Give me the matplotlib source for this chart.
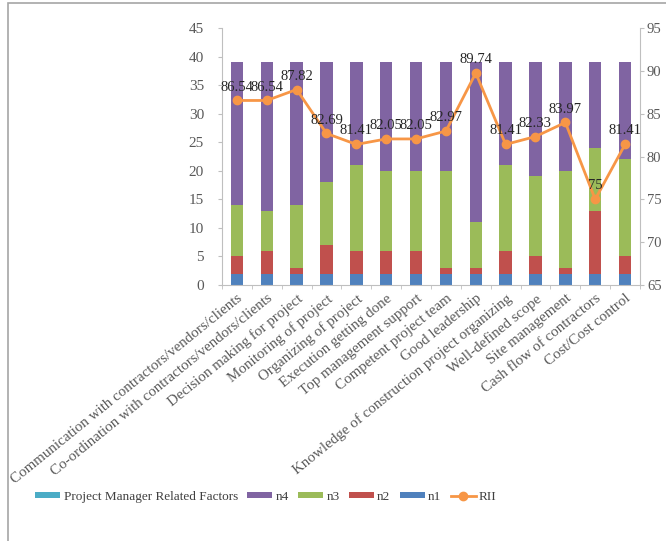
import numpy as np
import matplotlib
matplotlib.use("Agg")
import matplotlib.pyplot as plt
from matplotlib.patches import Rectangle

# Datos
factores = [
    "Communication with contractors/vendors/clients",
    "Co-ordination with contractors/vendors/clients",
    "Decision making for project",
    "Monitoring of project",
    "Organizing of project",
    "Execution getting done",
    "Top management support",
    "Competent project team",
    "Good leadership",
    "Knowledge of construction project organizing",
    "Well-defined scope",
    "Site management",
    "Cash flow of contractors",
    "Cost/Cost control",
]
n1 = [2, 2, 2, 2, 2, 2, 2, 2, 2, 2, 2, 2, 2, 2]
n2 = [3, 4, 1, 5, 4, 4, 4, 1, 1, 4, 3, 1, 11, 3]
n3 = [9, 7, 11, 11, 15, 14, 14, 17, 8, 15, 14, 17, 11, 17]
n4 = [25, 26, 25, 21, 18, 19, 19, 19, 28, 18, 20, 19, 15, 17]
pm = [0] * 14
rii = [86.54, 86.54, 87.82, 82.69, 81.41, 82.05, 82.05, 82.97, 89.74, 81.41, 82.33, 83.97, 75, 81.41]

plt.rcParams["font.family"] = ["Liberation Serif", "DejaVu Serif"]
gris = "#595959"

fig = plt.figure(figsize=(6.66, 5.41), dpi=100)
ax = fig.add_axes([222 / 666, 1 - 285 / 541, 418 / 666, 257 / 541])

x = np.arange(len(factores))
w = 0.42
b1 = np.array(n1)
b2 = b1 + np.array(n2)
b3 = b2 + np.array(n3)

ax.bar(x, pm, w, color="#4BACC6", label="Project Manager Related Factors")
ax.bar(x, n1, w, color="#4F81BD", label="n1")
ax.bar(x, n2, w, bottom=b1, color="#C0504D", label="n2")
ax.bar(x, n3, w, bottom=b2, color="#9BBB59", label="n3")
ax.bar(x, n4, w, bottom=b3, color="#8064A2", label="n4")

ax.set_xlim(-0.5, len(factores) - 0.5)
ax.set_ylim(0, 45)
ax.set_yticks(range(0, 46, 5))
ax.set_xticks(x)
ax.set_xticklabels(factores, rotation=39, ha="right", rotation_mode="anchor",
                   fontsize=10.8, color=gris)
ax.set_xticks(np.arange(-0.5, len(factores), 1), minor=True)
ax.tick_params(axis="x", which="major", length=0, pad=5)
ax.tick_params(axis="x", which="minor", length=3, color="#bfbfbf")
ax.tick_params(axis="y", labelsize=11, labelcolor=gris, color="#bfbfbf", length=3, pad=10)
for s in ["top", "right"]:
    ax.spines[s].set_visible(False)
ax.spines["left"].set_color("#bfbfbf")
ax.spines["bottom"].set_color("#bfbfbf")

# Eje secundario con el RII
ax2 = ax.twinx()
ax2.plot(x, rii, color="#F79646", linewidth=2, marker="o", markersize=6, label="RII")
ax2.set_ylim(65, 95)
ax2.set_yticks(range(65, 96, 5))
ax2.tick_params(axis="y", labelsize=10.5, labelcolor=gris, color="#bfbfbf", length=3, pad=2)
for s in ["top", "left", "bottom"]:
    ax2.spines[s].set_visible(False)
ax2.spines["right"].set_color("#bfbfbf")
for xi, v in zip(x, rii):
    ax2.annotate(f"{v:g}", (xi, v), xytext=(0, 5), textcoords="offset points",
                 ha="center", va="bottom", fontsize=10.5, color="#262626")

# Leyenda
h1, l1 = ax.get_legend_handles_labels()
h2, l2 = ax2.get_legend_handles_labels()
orden = [0, 4, 3, 2, 1]
handles = [h1[i] for i in orden] + h2
labels = [l1[i] for i in orden] + l2
fig.legend(handles, labels, loc="center", bbox_to_anchor=(266 / 666, 1 - 497 / 541),
           ncol=6, frameon=False, fontsize=9.5, handlelength=1.9, handleheight=0.35,
           columnspacing=0.7, handletextpad=0.25, labelcolor="#404040")

# Marco gris alrededor del grafico
fig.patches.append(Rectangle((8 / 666, -0.1), 1.2, 1 - 3 / 541 + 0.1,
                             transform=fig.transFigure, fill=False,
                             edgecolor="#a6a6a6", linewidth=1.2))

fig.savefig("out.png", dpi=100)
